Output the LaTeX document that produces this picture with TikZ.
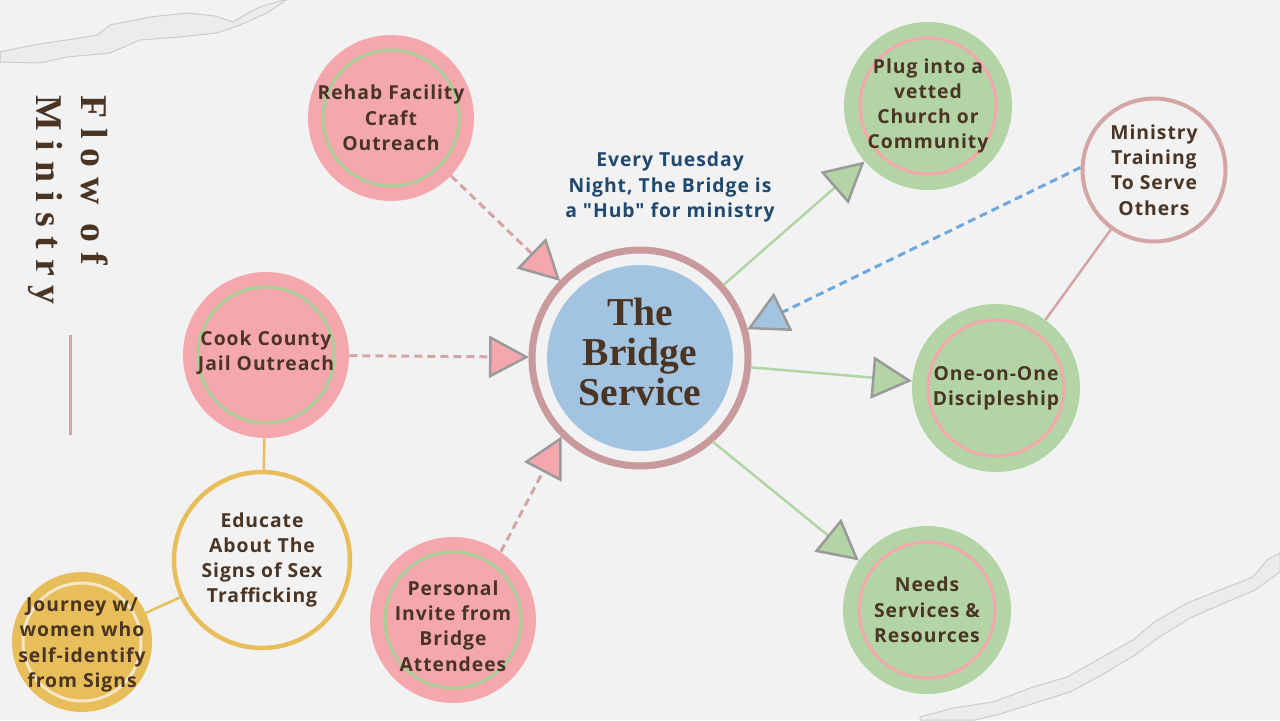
\documentclass[tikz,border=0pt]{standalone}
\usepackage{fontspec}
\setmainfont{Open Sans}
\newfontfamily\nodefont[LetterSpace=5]{Open Sans}
\newfontfamily\titlefont{Liberation Serif}
\newfontfamily\flowfont[LetterSpace=26]{Liberation Serif}
\usetikzlibrary{arrows.meta}
\definecolor{bg}{HTML}{F2F2F2}
\definecolor{pinkfill}{HTML}{F4A7AC}
\definecolor{greenfill}{HTML}{B3D4A5}
\definecolor{greenline}{HTML}{A9CF98}
\definecolor{bluefill}{HTML}{A3C4E0}
\definecolor{ringrose}{HTML}{C99A9C}
\definecolor{linerose}{HTML}{D4A5A5}
\definecolor{yellowc}{HTML}{E8BE5A}
\definecolor{cream}{HTML}{F5E6C8}
\definecolor{textbrown}{HTML}{4A3424}
\definecolor{tuesblue}{HTML}{1F496E}
\definecolor{arrowgray}{HTML}{9A9A9A}
\definecolor{bluedash}{HTML}{6FA8DC}
\definecolor{paper}{HTML}{ECECEC}
\definecolor{paperedge}{HTML}{CCCCCC}
\begin{document}
\begin{tikzpicture}[x=0.02cm,y=-0.02cm,
  every node/.style={text=textbrown},
  ntext/.style={align=center,font=\nodefont\fontsize{11pt}{14.4pt}\selectfont\bfseries,inner sep=0pt},
  pinkdisc/.style={ntext,circle,fill=pinkfill,minimum size=3.32cm},
  greendisc/.style={ntext,circle,fill=greenfill,minimum size=3.36cm},
  greenring/.style={draw=greenline,line width=0.06cm},
  pinkring/.style={draw=pinkfill,line width=0.06cm},
  pinkarrow/.style={draw=linerose,line width=0.06cm,dash pattern=on 0.16cm off 0.1cm,
    -{Triangle[length=0.8cm,width=0.84cm,fill=pinkfill,color=arrowgray,line width=0.05cm]}},
  greenarrow/.style={draw=greenfill,line width=0.05cm,
    -{Triangle[length=0.8cm,width=0.84cm,fill=greenfill,color=arrowgray,line width=0.05cm]}},
  bluearrow/.style={draw=bluedash,line width=0.06cm,dash pattern=on 0.16cm off 0.1cm,
    -{Triangle[length=0.8cm,width=0.84cm,fill=bluefill,color=arrowgray,line width=0.05cm]}},
  yellowline/.style={draw=yellowc,line width=0.05cm},
  roseline/.style={draw=linerose,line width=0.05cm},
  torn/.style={fill=paper,draw=paperedge,line width=0.02cm}
]
\useasboundingbox (0,0) rectangle (1280,720);
\fill[bg] (0,0) rectangle (1280,720);

% torn paper strips
\path[torn] (0,52) -- (33,45) -- (67,40) -- (97,35) -- (110,25) -- (150,17) -- (187,13)
  -- (215,16) -- (233,22) -- (250,12) -- (260,7) -- (283,0) -- (286,0)
  -- (267,13) -- (240,25) -- (217,33) -- (180,37) -- (140,40) -- (110,53)
  -- (67,57) -- (40,63) -- (0,62) -- cycle;
\path[torn] (920,720) -- (920,717) -- (953,708) -- (993,702) -- (1033,687) -- (1067,677)
  -- (1097,660) -- (1133,640) -- (1153,623) -- (1187,603) -- (1220,590) -- (1253,577)
  -- (1267,560) -- (1280,553) -- (1280,572) -- (1255,590) -- (1222,604) -- (1190,618)
  -- (1158,638) -- (1135,655) -- (1100,676) -- (1070,692) -- (1035,703) -- (1000,714)
  -- (975,720) -- cycle;

% title
\node[rotate=-90,anchor=north west,inner sep=0pt,align=left,
  font=\flowfont\fontsize{21.5pt}{25.6pt}\selectfont\bfseries] (title) at (108,95) {Flow of\\Ministry};
\draw[draw=linerose,line width=0.06cm] (70,335) -- (70,435);

% central node
\node[circle,fill=bluefill,minimum size=3.72cm,outer sep=0.36cm,inner sep=0pt] (bridge) at (640,358) {};
\draw[draw=ringrose,line width=0.14cm] (bridge.center) circle[radius=2.16cm];
\node[align=center,inner sep=0pt,font=\titlefont\fontsize{22.5pt}{23pt}\selectfont\bfseries] (bridgetext) at (640,352) {The\\Bridge\\Service};

\node[ntext,text=tuesblue] (tues) at (670,187) {Every Tuesday\\Night, The Bridge is\\a "Hub" for ministry};

% pink nodes
\node[pinkdisc] (rehab) at (391,118) {};
\draw[greenring] (rehab.center) circle[radius=1.36cm];
\node[ntext] (rehabtext) at (391,118) {Rehab Facility\\Craft\\Outreach};

\node[pinkdisc] (cook) at (266,355) {};
\draw[greenring] (cook.center) circle[radius=1.36cm];
\node[ntext] (cooktext) at (266,353) {Cook County\\Jail Outreach};

\node[pinkdisc] (personal) at (453,620) {};
\draw[greenring] (personal.center) circle[radius=1.36cm];
\node[ntext] (personaltext) at (453,626) {Personal\\Invite from\\Bridge\\Attendees};

% yellow nodes
\node[ntext,circle,draw=yellowc,line width=0.09cm,minimum size=3.52cm] (educate) at (262,560) {Educate\\About The\\Signs of Sex\\Trafficking};
\node[ntext,circle,fill=yellowc,minimum size=2.8cm] (journey) at (82,642) {};
\draw[draw=cream,line width=0.06cm] (journey.center) circle[radius=1.18cm];
\node[ntext] (journeytext) at (82,645) {Journey w/\\women who\\self-identify\\from Signs};

% green nodes
\node[greendisc] (plug) at (928,106) {};
\draw[pinkring] (plug.center) circle[radius=1.36cm];
\node[ntext] (plugtext) at (928,106) {Plug into a\\vetted\\Church or\\Community};

\node[greendisc] (one) at (996,388) {};
\draw[pinkring] (one.center) circle[radius=1.36cm];
\node[ntext] (onetext) at (996,388) {One-on-One\\Discipleship};

\node[greendisc] (needs) at (927,610) {};
\draw[pinkring] (needs.center) circle[radius=1.36cm];
\node[ntext] (needstext) at (927,610) {Needs\\Services \&\\Resources};

\node[ntext,circle,draw=linerose,line width=0.08cm,minimum size=2.86cm] (ministry) at (1154,170) {Ministry\\Training\\To Serve\\Others};

% connectors
\draw[pinkarrow] (rehab) -- (bridge);
\draw[pinkarrow] (cook) -- (bridge);
\draw[pinkarrow] (personal.55) -- (bridge.225);
\draw[greenarrow] (bridge) -- (plug);
\draw[greenarrow] (bridge) -- (one);
\draw[greenarrow] (bridge.-49) -- (needs.144);
\draw[bluearrow] (ministry.178) -- (bridge.15);
\draw[roseline] (ministry) -- (one);
\draw[yellowline] (cook) -- (educate);
\draw[yellowline] (educate) -- (journey);
\end{tikzpicture}
\end{document}
